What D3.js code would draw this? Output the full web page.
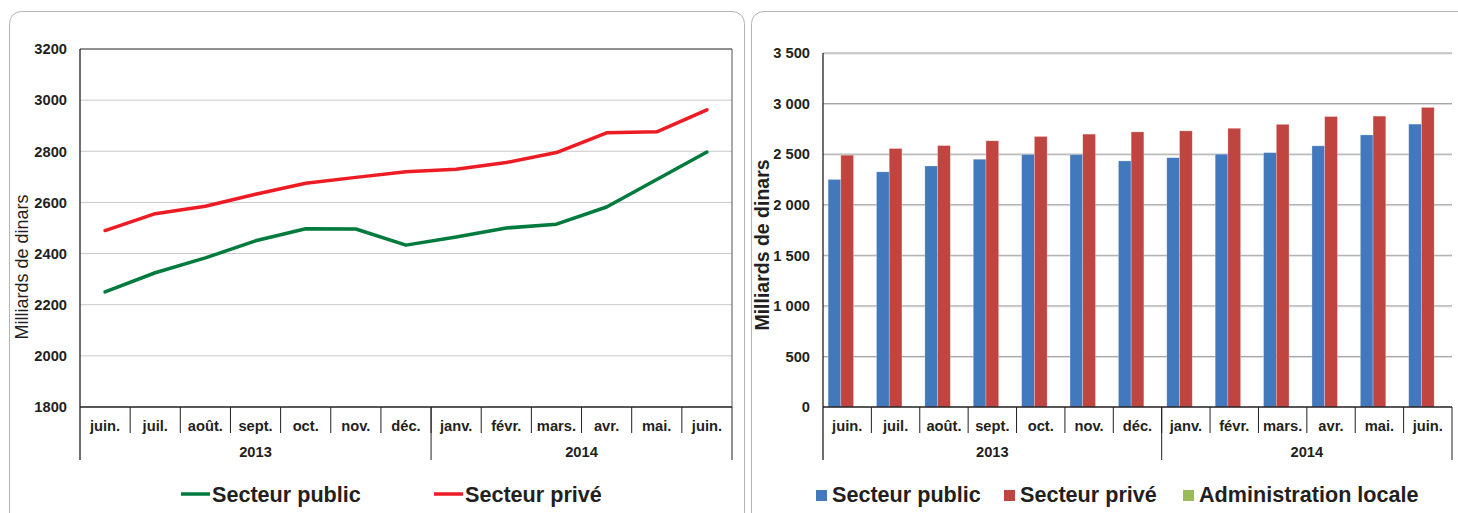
<!DOCTYPE html>
<html lang="fr">
<head>
<meta charset="UTF-8">
<title>Crédits à l'économie</title>
<script src="https://d3js.org/d3.v7.min.js"></script>
<style>
    body { margin: 0; background: #ffffff; }
    svg { display: block; font-family: "Liberation Sans", Arial, sans-serif; }
    .lbl { font-weight: bold; font-size: 14.7px; fill: #231f20; }
</style>
</head>
<body>
<svg id="chart" width="1458" height="513"></svg>
<script>
    // data
    var months = ["juin.", "juil.", "août.", "sept.", "oct.", "nov.", "déc.", "janv.", "févr.", "mars.", "avr.", "mai.", "juin."];
    var years = [{ label: "2013", first: 0, last: 6 }, { label: "2014", first: 7, last: 12 }];
    var secteurPublic = [2250, 2325, 2383, 2450, 2497, 2496, 2433, 2465, 2500, 2515, 2582, 2690, 2797];
    var secteurPrive = [2490, 2556, 2585, 2632, 2675, 2698, 2720, 2730, 2756, 2795, 2872, 2876, 2962];
    var adminLocale = [0, 0, 0, 0, 0, 0, 0, 0, 0, 0, 0, 0, 0];
    var leftTicks = [1800, 2000, 2200, 2400, 2600, 2800, 3000, 3200];
    var rightTicks = [0, 500, 1000, 1500, 2000, 2500, 3000, 3500];

    var svg = d3.select("#chart");
    var txt = "#231f20";

    // panel frames
    svg.append("rect").attr("x", 9.5).attr("y", 11.5).attr("width", 735).attr("height", 540)
        .attr("rx", 12).attr("fill", "none").attr("stroke", "#b4b4b4");
    svg.append("rect").attr("x", 751.5).attr("y", 11.5).attr("width", 740).attr("height", 540)
        .attr("rx", 12).attr("fill", "none").attr("stroke", "#b4b4b4");

    // category axis with month ticks and year groups
    function categoryAxis(g, x, y0, top) {
        var r = x.range();
        g.append("line").attr("x1", r[0]).attr("x2", r[1]).attr("y1", y0).attr("y2", y0)
            .attr("stroke", "#231f20").attr("stroke-width", 1.3);
        months.forEach(function (m, i) {
            if (i > 0) {
                g.append("line").attr("x1", x(i)).attr("x2", x(i)).attr("y1", y0).attr("y2", y0 + 26)
                    .attr("stroke", "#231f20");
            }
            g.append("text").attr("class", "lbl").attr("x", x(i) + x.bandwidth() / 2).attr("y", y0 + 23.5)
                .attr("text-anchor", "middle").text(m);
        });
        years.forEach(function (yr) {
            var a = x(yr.first), b = x(yr.last) + x.bandwidth();
            g.append("text").attr("class", "lbl").attr("x", (a + b) / 2).attr("y", y0 + 49.5)
                .attr("text-anchor", "middle").text(yr.label);
            g.append("line").attr("x1", b).attr("x2", b).attr("y1", y0).attr("y2", y0 + 53)
                .attr("stroke", "#231f20");
        });
        g.append("line").attr("x1", r[0]).attr("x2", r[0]).attr("y1", top).attr("y2", y0 + 53)
            .attr("stroke", "#231f20").attr("stroke-width", 1.3);
    }

    // ---- left: line chart
    var L = { left: 80, right: 732, top: 49, bottom: 407 };
    var xL = d3.scaleBand().domain(d3.range(months.length)).range([L.left, L.right]);
    var yL = d3.scaleLinear().domain([1800, 3200]).range([L.bottom, L.top]);
    var gL = svg.append("g");

    gL.selectAll(".grid").data(leftTicks.slice(1, -1)).join("line")
        .attr("x1", L.left).attr("x2", L.right)
        .attr("y1", function (d) { return yL(d); }).attr("y2", function (d) { return yL(d); })
        .attr("stroke", "#c8c8c8");
    gL.append("line").attr("x1", L.left).attr("x2", L.right).attr("y1", L.top).attr("y2", L.top)
        .attr("stroke", "#231f20");
    gL.append("line").attr("x1", L.right).attr("x2", L.right).attr("y1", L.top).attr("y2", L.bottom)
        .attr("stroke", "#555555");

    gL.append("g").attr("transform", "translate(" + L.left + ",0)")
        .call(d3.axisLeft(yL).tickValues(leftTicks).tickSize(0).tickPadding(13).tickFormat(d3.format("d")))
        .call(function (a) { a.select(".domain").remove(); })
        .selectAll("text").attr("class", "lbl").attr("font-family", null).attr("font-size", null);

    categoryAxis(gL, xL, L.bottom, L.top);

    gL.append("text").attr("transform", "translate(28,267) rotate(-90)")
        .attr("text-anchor", "middle").attr("font-size", 18).attr("fill", txt).text("Milliards de dinars");

    var line = d3.line()
        .x(function (d, i) { return xL(i) + xL.bandwidth() / 2; })
        .y(function (d) { return yL(d); });
    var lineSeries = [
        { name: "Secteur public", values: secteurPublic, color: "#007a3d" },
        { name: "Secteur privé", values: secteurPrive, color: "#ed1c24" }
    ];
    lineSeries.forEach(function (s) {
        gL.append("path").datum(s.values).attr("d", line).attr("fill", "none")
            .attr("stroke", s.color).attr("stroke-width", 3.5)
            .attr("stroke-linejoin", "round").attr("stroke-linecap", "round");
    });

    var legL = [181, 434];
    lineSeries.forEach(function (s, i) {
        gL.append("line").attr("x1", legL[i]).attr("x2", legL[i] + 29).attr("y1", 494).attr("y2", 494)
            .attr("stroke", s.color).attr("stroke-width", 3.5);
        gL.append("text").attr("x", legL[i] + 31).attr("y", 502).attr("font-size", 21.6)
            .attr("font-weight", "bold").attr("fill", txt).text(s.name);
    });

    // ---- right: bar chart
    var R = { left: 823, right: 1452, top: 53, bottom: 407 };
    var xR = d3.scaleBand().domain(d3.range(months.length)).range([R.left, R.right]);
    var barSeries = [
        { name: "Secteur public", values: secteurPublic, color: "#4279bd" },
        { name: "Secteur privé", values: secteurPrive, color: "#c0443f" },
        { name: "Administration locale", values: adminLocale, color: "#9bbb59" }
    ];
    var xSub = d3.scaleBand().domain(d3.range(barSeries.length)).range([0, xR.bandwidth()])
        .paddingInner(0).paddingOuter(0.4);
    var yR = d3.scaleLinear().domain([0, 3500]).range([R.bottom, R.top]);
    var gR = svg.append("g");
    var frFmt = d3.formatLocale({ decimal: ",", thousands: " ", grouping: [3], currency: ["", " €"] }).format(",");

    gR.selectAll(".grid").data(rightTicks.slice(1)).join("line")
        .attr("x1", R.left).attr("x2", R.right)
        .attr("y1", function (d) { return yR(d) + 1; }).attr("y2", function (d) { return yR(d) + 1; })
        .attr("stroke", "#dcdcdc");
    gR.selectAll(".grid2").data(rightTicks.slice(1)).join("line")
        .attr("x1", R.left).attr("x2", R.right)
        .attr("y1", function (d) { return yR(d); }).attr("y2", function (d) { return yR(d); })
        .attr("stroke", "#a0a0a0");

    gR.append("g").attr("transform", "translate(" + R.left + ",0)")
        .call(d3.axisLeft(yR).tickValues(rightTicks).tickSize(0).tickPadding(13).tickFormat(frFmt))
        .call(function (a) { a.select(".domain").remove(); })
        .selectAll("text").attr("class", "lbl").attr("font-family", null).attr("font-size", null);

    barSeries.forEach(function (s, si) {
        gR.selectAll(".b" + si).data(s.values).join("rect")
            .attr("x", function (d, i) { return xR(i) + xSub(si); })
            .attr("width", xSub.bandwidth())
            .attr("y", function (d) { return yR(d); })
            .attr("height", function (d) { return R.bottom - yR(d); })
            .attr("fill", s.color)
            .attr("stroke", "rgba(255,255,255,0.45)").attr("stroke-width", 0.6);
    });

    categoryAxis(gR, xR, R.bottom, R.top);

    gR.append("text").attr("transform", "translate(769,245) rotate(-90)")
        .attr("text-anchor", "middle").attr("font-size", 19.5).attr("font-weight", "bold")
        .attr("fill", txt).text("Milliards de dinars");

    var legR = [816, 1004, 1183];
    barSeries.forEach(function (s, i) {
        gR.append("rect").attr("x", legR[i]).attr("y", 490).attr("width", 11).attr("height", 11)
            .attr("fill", s.color);
        gR.append("text").attr("x", legR[i] + 16).attr("y", 502).attr("font-size", 21.6)
            .attr("font-weight", "bold").attr("fill", txt).text(s.name);
    });
</script>
</body>
</html>
